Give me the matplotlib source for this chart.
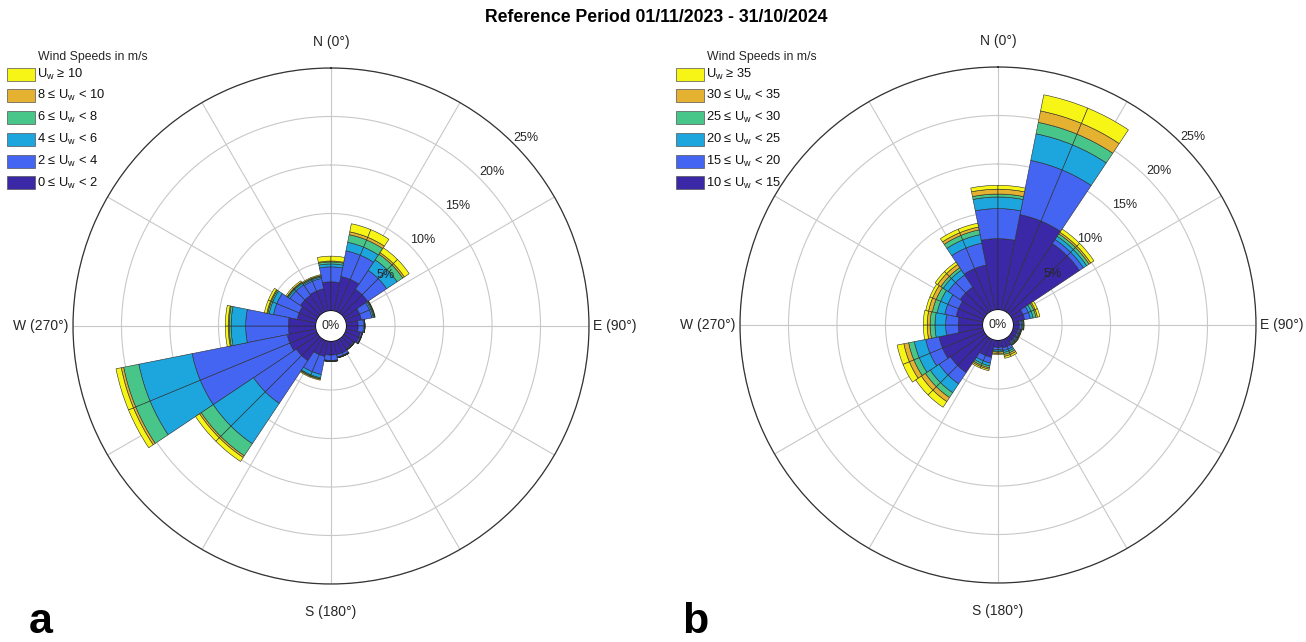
import numpy as np
import matplotlib
matplotlib.use('Agg')
import matplotlib.pyplot as plt
from matplotlib.patches import Rectangle

plt.rcParams['font.family'] = ['Liberation Sans', 'DejaVu Sans']
plt.rcParams['mathtext.default'] = 'regular'

# 16 compass sectors, clockwise from north
directions = ['N', 'NNE', 'NE', 'ENE', 'E', 'ESE', 'SE', 'SSE',
              'S', 'SSW', 'SW', 'WSW', 'W', 'WNW', 'NW', 'NNW']

band_colors = ['#3B28A6', '#4464F2', '#1CA6DD', '#48C68A', '#E5B131', '#F6F515']

# panel a: frequency (%) per speed band, lowest band first
a_labels = ['0 ≤ U$_w$ < 2', '2 ≤ U$_w$ < 4', '4 ≤ U$_w$ < 6',
            '6 ≤ U$_w$ < 8', '8 ≤ U$_w$ < 10', 'U$_w$ ≥ 10']
a_0_2 = [2.95, 3.6, 2.95, 1.6, 1.2, 1.5, 1.2, 1.4, 1.4, 1.6, 2.7, 3.0, 2.8, 1.95, 2.2, 2.3]
a_2_4 = [1.55, 2.7, 2.35, 1.1, 0.55, 0.15, 0.1, 0.25, 0.55, 1.9, 5.3, 10.0, 4.4, 2.5, 1.3, 1.1]
a_4_6 = [0.3, 0.9, 1.3, 0.15, 0.1, 0.05, 0.05, 0.05, 0.05, 0.35, 5.0, 5.6, 1.5, 0.45, 0.2, 0.15]
a_6_8 = [0.2, 0.8, 0.7, 0.1, 0.05, 0.02, 0.0, 0.05, 0.05, 0.1, 1.5, 1.6, 0.2, 0.15, 0.1, 0.1]
a_8_10 = [0.1, 0.3, 0.2, 0.05, 0.0, 0.0, 0.0, 0.0, 0.0, 0.05, 0.2, 0.25, 0.1, 0.1, 0.05, 0.05]
a_10 = [0.5, 0.85, 0.6, 0.05, 0.0, 0.0, 0.0, 0.0, 0.0, 0.1, 0.5, 0.55, 0.3, 0.25, 0.15, 0.1]

# panel b
b_labels = ['10 ≤ U$_w$ < 15', '15 ≤ U$_w$ < 20', '20 ≤ U$_w$ < 25',
            '25 ≤ U$_w$ < 30', '30 ≤ U$_w$ < 35', 'U$_w$ ≥ 35']
b_10_15 = [7.3, 10.0, 8.5, 1.2, 0.6, 0.5, 0.5, 0.8, 0.7, 1.8, 4.3, 4.6, 2.5, 2.8, 3.1, 4.7]
b_15_20 = [3.1, 5.7, 0.5, 0.6, 0.2, 0.15, 0.15, 0.3, 0.25, 0.6, 1.4, 1.4, 1.3, 1.2, 1.5, 2.3]
b_20_25 = [1.2, 2.8, 0.4, 0.3, 0.1, 0.1, 0.1, 0.2, 0.15, 0.3, 1.1, 1.2, 1.1, 0.8, 0.6, 0.9]
b_25_30 = [0.3, 1.2, 0.3, 0.3, 0.1, 0.05, 0.1, 0.2, 0.1, 0.2, 0.6, 0.6, 0.5, 0.5, 0.3, 0.5]
b_30_35 = [0.5, 1.2, 0.2, 0.15, 0.05, 0.05, 0.05, 0.2, 0.15, 0.15, 0.5, 0.5, 0.3, 0.4, 0.4, 0.3]
b_35 = [0.4, 1.7, 0.4, 0.25, 0.05, 0.05, 0.05, 0.2, 0.1, 0.15, 0.7, 0.7, 0.4, 0.3, 0.3, 0.4]

ring_ticks = [5, 10, 15, 20, 25]
rmax = 25
W, H = 1306, 642

fig = plt.figure(figsize=(W / 100, H / 100), dpi=100)


def rose(ax, bands):
    n = len(directions)
    step = 2 * np.pi / n
    # each sector drawn as two half wedges (as in the original)
    centers = np.arange(n) * step
    theta = np.concatenate([centers - step / 4, centers + step / 4])
    bottom = np.zeros(2 * n)
    for vals, col in zip(bands, band_colors):
        v = np.tile(np.array(vals, dtype=float), 2)
        ax.bar(theta, v, width=step / 2, bottom=bottom, color=col,
               edgecolor='#2a2a2a', linewidth=0.4, zorder=3)
        bottom = bottom + v

    ax.set_theta_zero_location('N')
    ax.set_theta_direction(-1)
    ax.set_ylim(0, rmax)
    ax.set_rorigin(-1.6)
    ax.set_thetagrids(np.arange(0, 360, 30), labels=[''] * 12)
    ax.set_rgrids(ring_ticks, labels=[''] * len(ring_ticks))
    ax.grid(color='#c8c8c8', linewidth=0.8)
    ax.spines['polar'].set_color('#333333')
    ax.spines['polar'].set_linewidth(0.9)
    for r in ring_ticks:
        ax.text(np.deg2rad(45), r, f'{r}%', ha='left', va='bottom',
                fontsize=9, color='#262626', zorder=6)
    ax.text(0.5, 0.5, '0%', transform=ax.transAxes, ha='center', va='center',
            fontsize=9, color='#262626')
    kw = dict(transform=ax.transAxes, fontsize=10, color='#262626')
    ax.text(0.5, 1.050, 'N (0°)', ha='center', va='center', **kw)
    ax.text(0.5, -0.054, 'S (180°)', ha='center', va='center', **kw)
    ax.text(1.008, 0.5, 'E (90°)', ha='left', va='center', **kw)
    ax.text(-0.008, 0.5, 'W (270°)', ha='right', va='center', **kw)


def legend(x0, labels):
    fig.text((x0 + 31) / W, 1 - 57 / H, 'Wind Speeds in m/s',
             ha='left', va='center', fontsize=8.8, color='#262626')
    for i, k in enumerate(range(len(labels) - 1, -1, -1)):
        yc = 74 + i * 21.8
        fig.add_artist(Rectangle((x0 / W, 1 - (yc + 6.5) / H), 28 / W, 13 / H,
                                 transform=fig.transFigure, facecolor=band_colors[k],
                                 edgecolor='#555555', linewidth=0.5))
        fig.text((x0 + 30) / W, 1 - yc / H, labels[k], ha='left', va='center',
                 fontsize=9.3, color='#111111')


ax1 = fig.add_axes([73 / W, 58 / H, 516 / W, 516 / H], projection='polar')
rose(ax1, [a_0_2, a_2_4, a_4_6, a_6_8, a_8_10, a_10])
ax2 = fig.add_axes([740 / W, 59 / H, 516 / W, 516 / H], projection='polar')
rose(ax2, [b_10_15, b_15_20, b_20_25, b_25_30, b_30_35, b_35])

legend(7, a_labels)
legend(676, b_labels)

fig.text(656 / W, 1 - 17 / H, 'Reference Period 01/11/2023 - 31/10/2024',
         ha='center', va='center', fontsize=12.7, fontweight='bold')
fig.text(41 / W, 1 - 633 / H, 'a', ha='center', va='baseline', fontsize=31, fontweight='bold')
fig.text(695 / W, 1 - 633 / H, 'b', ha='center', va='baseline', fontsize=31, fontweight='bold')

fig.savefig('out.png', dpi=100)
